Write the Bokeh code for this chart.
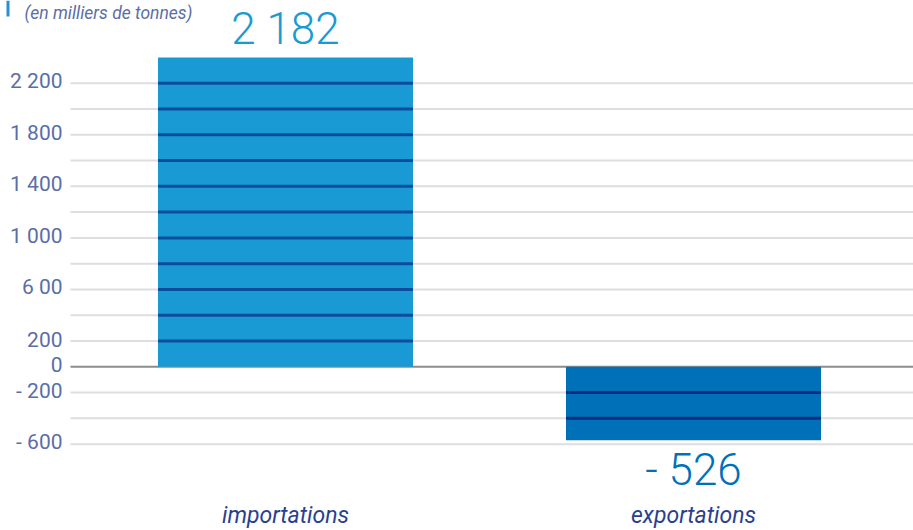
from bokeh.plotting import figure
from bokeh.models import Range1d, BoxAnnotation, ColumnDataSource
from bokeh.core.properties import value
from bokeh.embed import file_html
from bokeh.resources import INLINE

# ---- data ----
categories = ["importations", "exportations"]
value_labels = ["2 182", "- 526"]
bar_values = [2400, -570]          # bar extents as drawn in the chart
bar_colors = ["#1a9ad4", "#0071b9"]
stripe_colors = ["#0b4c9c", "#0a2d7e"]
label_colors = ["#1a9ad4", "#0071b9"]
tick_values = [2200, 1800, 1400, 1000, 600, 200, 0, -200, -600]
tick_labels = ["2 200", "1 800", "1 400", "1 000", "6 00", "200", "0", "- 200", "- 600"]
grid_values = [-600, -400, -200, 200, 400, 600, 800, 1000, 1200, 1400, 1600, 1800, 2000, 2200]
unit_title = "(en milliers de tonnes)"

# ---- layout (screen geometry) ----
W, H = 913, 530
px_per_unit_x = 408.0
first_center_px = 285
grid_left_px = 70
tick_right_px = 62
title_left_px = 24
zero_sy = 366.3
px_per_val = 0.1289

x_start = -first_center_px / px_per_unit_x
x_end = x_start + W / px_per_unit_x
y_end = zero_sy / px_per_val
y_start = y_end - H / px_per_val
bar_w = 255 / px_per_unit_x
gx0 = x_start + grid_left_px / px_per_unit_x
tick_x = x_start + tick_right_px / px_per_unit_x
title_x = x_start + title_left_px / px_per_unit_x

p = figure(width=W, height=H, output_backend="svg", toolbar_location=None,
           x_range=Range1d(x_start, x_end), y_range=Range1d(y_start, y_end),
           min_border=0, outline_line_color=None,
           background_fill_color="white", border_fill_color="white")
p.styles = {"position": "absolute", "left": "0px", "top": "0px"}
p.axis.visible = False
p.grid.visible = False

# grid lines
p.segment(x0=[gx0] * len(grid_values), x1=[x_end] * len(grid_values),
          y0=grid_values, y1=grid_values, line_color="#dedede", line_width=2)
# zero line
p.segment(x0=[gx0], x1=[x_end], y0=[0], y1=[0], line_color="#8c8c8c", line_width=2)

# bars
xs = list(range(len(categories)))
tops = [max(v, 0) for v in bar_values]
bottoms = [min(v, 0) for v in bar_values]
src = ColumnDataSource(dict(x=xs, top=tops, bottom=bottoms, color=bar_colors))
p.vbar(x="x", top="top", bottom="bottom", width=bar_w, color="color", source=src, line_color=None)

# stripes over bars at each grid level
sx0, sx1, sy, sc = [], [], [], []
for i, v in enumerate(bar_values):
    lo, hi = min(v, 0), max(v, 0)
    for g in grid_values:
        if lo < g < hi:
            sx0.append(i - bar_w / 2); sx1.append(i + bar_w / 2); sy.append(g); sc.append(stripe_colors[i])
p.segment(x0=sx0, x1=sx1, y0=sy, y1=sy, line_color=sc, line_width=3)

# value labels
p.text(x=[0], y=[tops[0]], text=[value_labels[0]], y_offset=-28, text_align="center",
       text_baseline="middle", text_font=value("Roboto Light"), text_font_size="44px",
       text_color=label_colors[0])
p.text(x=[1], y=[bottoms[1]], text=[value_labels[1]], y_offset=30, text_align="center",
       text_baseline="middle", text_font=value("Roboto Light"), text_font_size="44px",
       text_color=label_colors[1])

# y tick labels
p.text(x=[tick_x] * len(tick_values), y=tick_values, text=tick_labels, y_offset=-2,
       text_align="right", text_baseline="middle", text_font=value("Roboto"),
       text_font_size="21px", text_color="#5a6ea8")

# category labels
p.text(x=xs, y=[y_start] * len(xs), text=categories, y_offset=-15, text_align="center",
       text_baseline="middle", text_font=value("Roboto"), text_font_style="italic",
       text_font_size="23px", text_color="#2b3f8f")

# unit title and marker
p.text(x=[title_x], y=[y_end], text=[unit_title], y_offset=12, text_align="left",
       text_baseline="middle", text_font=value("Roboto"), text_font_style="italic",
       text_font_size="17.5px", text_color="#5b6ea6")
p.add_layout(BoxAnnotation(left=6, right=9, top=0, bottom=16, left_units="canvas",
                           right_units="canvas", top_units="canvas", bottom_units="canvas",
                           fill_color="#2a8fd0", fill_alpha=1, line_color=None))

open("out.html", "w").write(file_html(p, INLINE))
